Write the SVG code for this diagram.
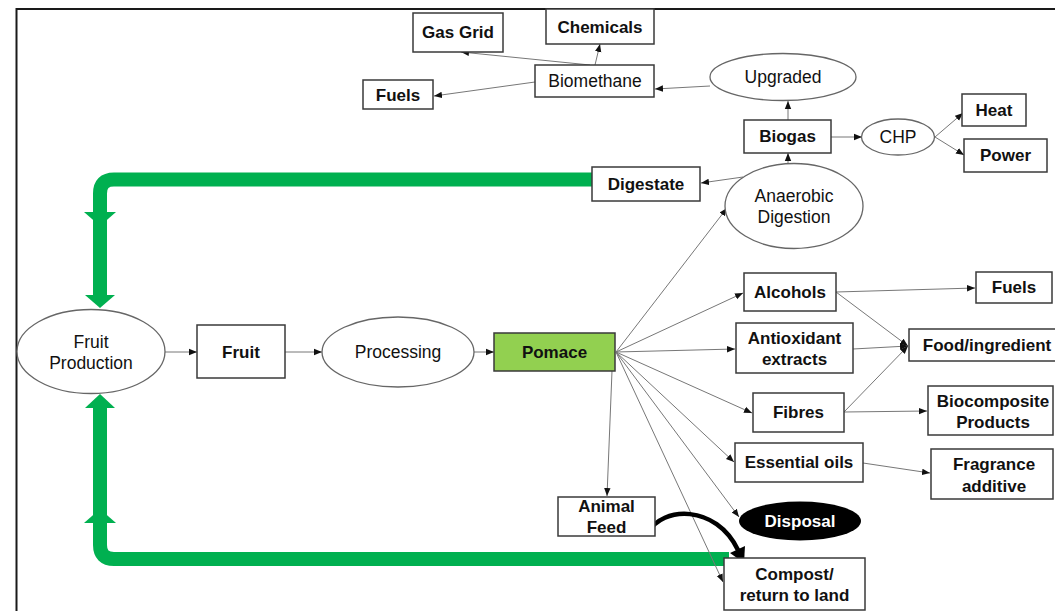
<svg xmlns="http://www.w3.org/2000/svg" width="1055" height="611" viewBox="0 0 1055 611">
<style>
text{font-family:"Liberation Sans",Arial,sans-serif;fill:#111;text-anchor:middle}
.b{font-weight:bold;font-size:17px}
.r{font-size:17.5px}
.box{fill:#fff;stroke:#3a3a3a;stroke-width:1.5}
.ell{fill:#fff;stroke:#666;stroke-width:1.3}
.ln{fill:none;stroke:#777;stroke-width:1}
.grn{fill:none;stroke:#00b050;stroke-width:14}
.gh{fill:#00b050}
</style>
<defs>
<marker id="ah" markerUnits="userSpaceOnUse" markerWidth="8" markerHeight="8" viewBox="0 0 8 8" refX="8" refY="4" orient="auto">
<path d="M0,0.8 L8,4 L0,7.2 Z" fill="#111"/>
</marker>
</defs>
<rect width="1055" height="611" fill="#fff"/>
<path d="M16.5,611 V9 H1055" fill="none" stroke="#1a1a1a" stroke-width="2"/>

<g id="connectors">
<path class="grn" d="M593,179.5 H114 Q100,179.5 100,193.5 V296"/>
<polygon class="gh" points="85,295 115,295 100,308"/>
<polygon class="gh" points="84,212 116,212 100,226"/>
<path class="grn" d="M729,559 H114 Q100,559 100,545 V407"/>
<polygon class="gh" points="85,408 115,408 100,394"/>
<polygon class="gh" points="84,523 116,523 100,509"/>
<line class="ln" x1="710" y1="86" x2="655" y2="89" marker-end="url(#ah)"/>
<line class="ln" x1="590" y1="65" x2="461" y2="52" marker-end="url(#ah)"/>
<line class="ln" x1="595" y1="65" x2="600" y2="44" marker-end="url(#ah)"/>
<line class="ln" x1="535" y1="82" x2="434" y2="96" marker-end="url(#ah)"/>
<line class="ln" x1="788" y1="120" x2="788" y2="101" marker-end="url(#ah)"/>
<line class="ln" x1="831" y1="137" x2="862" y2="137" marker-end="url(#ah)"/>
<line class="ln" x1="935" y1="137" x2="963" y2="113" marker-end="url(#ah)"/>
<line class="ln" x1="935" y1="137" x2="964" y2="155" marker-end="url(#ah)"/>
<line class="ln" x1="788" y1="163" x2="788" y2="153" marker-end="url(#ah)"/>
<line class="ln" x1="743" y1="177" x2="701" y2="183" marker-end="url(#ah)"/>
<line class="ln" x1="165" y1="352" x2="197" y2="352" marker-end="url(#ah)"/>
<line class="ln" x1="285" y1="352" x2="322" y2="352" marker-end="url(#ah)"/>
<line class="ln" x1="474" y1="352" x2="494" y2="352" marker-end="url(#ah)"/>
<line class="ln" x1="616" y1="352" x2="727" y2="208" marker-end="url(#ah)"/>
<line class="ln" x1="616" y1="352" x2="743" y2="293" marker-end="url(#ah)"/>
<line class="ln" x1="616" y1="352" x2="735" y2="349" marker-end="url(#ah)"/>
<line class="ln" x1="616" y1="352" x2="752" y2="413" marker-end="url(#ah)"/>
<line class="ln" x1="616" y1="352" x2="734" y2="462" marker-end="url(#ah)"/>
<line class="ln" x1="616" y1="352" x2="739" y2="517" marker-end="url(#ah)"/>
<line class="ln" x1="616" y1="352" x2="723" y2="582" marker-end="url(#ah)"/>
<line class="ln" x1="612" y1="371" x2="607" y2="496" marker-end="url(#ah)"/>
<line class="ln" x1="836" y1="292" x2="975" y2="288" marker-end="url(#ah)"/>
<line class="ln" x1="836" y1="292" x2="908" y2="346" marker-end="url(#ah)"/>
<line class="ln" x1="853" y1="349" x2="908" y2="346" marker-end="url(#ah)"/>
<line class="ln" x1="844" y1="412" x2="908" y2="346" marker-end="url(#ah)"/>
<line class="ln" x1="844" y1="412" x2="927" y2="411" marker-end="url(#ah)"/>
<line class="ln" x1="863" y1="463" x2="930" y2="473" marker-end="url(#ah)"/>
<path d="M648,533 C662,506 716,504 738,550" fill="none" stroke="#000" stroke-width="4.5"/>
<polygon points="744,563 745,546 730,553" fill="#000"/>
</g>

<g id="gas-grid"><rect class="box" x="413" y="13" width="90" height="39"/><text class="b" x="458" y="38">Gas Grid</text></g>
<g id="chemicals"><rect class="box" x="546" y="9" width="108" height="35"/><text class="b" x="600" y="33">Chemicals</text></g>
<g id="biomethane"><rect class="box" x="535" y="65" width="119" height="32"/><text class="r" x="595" y="87">Biomethane</text></g>
<g id="fuels-top"><rect class="box" x="363" y="80" width="70" height="29"/><text class="b" x="398" y="101">Fuels</text></g>
<g id="upgraded"><ellipse class="ell" cx="783" cy="77" rx="73" ry="23.5"/><text class="r" x="783" y="83">Upgraded</text></g>
<g id="biogas"><rect class="box" x="744" y="120" width="87" height="33"/><text class="b" x="787.5" y="142">Biogas</text></g>
<g id="chp"><ellipse class="ell" cx="898" cy="137" rx="36.5" ry="18"/><text class="r" x="898" y="143">CHP</text></g>
<g id="heat"><rect class="box" x="962" y="94" width="64" height="32"/><text class="b" x="994" y="116">Heat</text></g>
<g id="power"><rect class="box" x="964" y="139" width="83" height="33"/><text class="b" x="1005.5" y="161">Power</text></g>
<g id="anaerobic-digestion"><ellipse class="ell" cx="794" cy="206" rx="69" ry="42.5"/><text class="r" x="794" y="202">Anaerobic</text><text class="r" x="794" y="223">Digestion</text></g>
<g id="digestate"><rect class="box" x="592" y="167" width="108" height="34"/><text class="b" x="646" y="190">Digestate</text></g>
<g id="fruit-production"><ellipse class="ell" cx="91" cy="351.5" rx="74" ry="42"/><text class="r" x="91" y="348">Fruit</text><text class="r" x="91" y="369">Production</text></g>
<g id="fruit"><rect class="box" x="197" y="325" width="88" height="53"/><text class="b" x="241" y="358">Fruit</text></g>
<g id="processing"><ellipse class="ell" cx="398" cy="352" rx="76" ry="35"/><text class="r" x="398" y="358">Processing</text></g>
<g id="pomace"><rect x="494" y="333" width="121" height="38" fill="#92d050" stroke="#3a3a3a" stroke-width="1.5"/><text class="b" x="554.5" y="358">Pomace</text></g>
<g id="alcohols"><rect class="box" x="744" y="273" width="92" height="38"/><text class="b" x="790" y="298">Alcohols</text></g>
<g id="antioxidant-extracts"><rect class="box" x="736" y="323" width="117" height="50"/><text class="b" x="794.5" y="344">Antioxidant</text><text class="b" x="794.5" y="365">extracts</text></g>
<g id="fibres"><rect class="box" x="753" y="393" width="91" height="39"/><text class="b" x="798.5" y="418">Fibres</text></g>
<g id="essential-oils"><rect class="box" x="735" y="443" width="128" height="39"/><text class="b" x="799" y="468">Essential oils</text></g>
<g id="disposal"><ellipse cx="800" cy="521" rx="61" ry="19.5" fill="#000"/><text class="b" x="800" y="527" style="fill:#fff">Disposal</text></g>
<g id="animal-feed"><rect class="box" x="558" y="497" width="97" height="39"/><text class="b" x="606.5" y="512">Animal</text><text class="b" x="606.5" y="533">Feed</text></g>
<g id="compost"><rect class="box" x="724" y="558" width="141" height="52"/><text class="b" x="794.5" y="580">Compost/</text><text class="b" x="794.5" y="601">return to land</text></g>
<g id="fuels-right"><rect class="box" x="976" y="272" width="76" height="31"/><text class="b" x="1014" y="293">Fuels</text></g>
<g id="food-ingredient"><rect class="box" x="909" y="329" width="152" height="32"/><text class="b" x="987" y="351">Food/ingredient</text></g>
<g id="biocomposite-products"><rect class="box" x="928" y="386" width="125" height="49"/><text class="b" x="993" y="407">Biocomposite</text><text class="b" x="993" y="428">Products</text></g>
<g id="fragrance-additive"><rect class="box" x="931" y="449" width="122" height="50"/><text class="b" x="994" y="470">Fragrance</text><text class="b" x="994" y="492">additive</text></g>
</svg>
